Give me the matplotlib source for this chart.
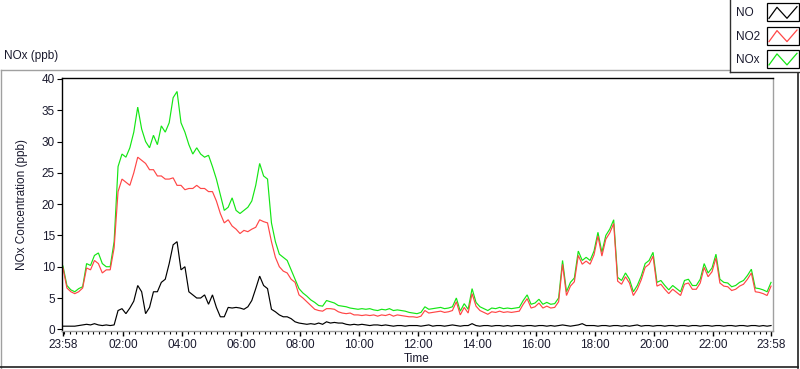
import numpy as np
import matplotlib
matplotlib.use("Agg")
import matplotlib.pyplot as plt
from matplotlib.lines import Line2D
from matplotlib.patches import Rectangle
from matplotlib.ticker import FixedLocator, NullFormatter

# ---------------- data (one sample every 8 minutes from 23:58) ----------------
sample_step_min = 8

nox = [10.1, 7.0, 6.3, 6.0, 6.5, 6.8, 10.5, 10.2, 11.8, 12.2, 10.5, 10.0, 10.0, 14.0, 26.0, 28.0,
       27.5, 29.0, 31.5, 35.5, 32.0, 30.0, 29.0, 31.0, 29.5, 32.5, 31.5, 33.0, 37.0, 38.0, 33.0, 31.5,
       29.5, 28.0, 29.0, 28.0, 27.5, 27.8, 26.0, 24.0, 21.5, 19.0, 19.5, 21.0, 19.0, 18.5,
       19.0, 19.5, 20.5, 23.0, 26.5, 24.5, 24.0, 17.0, 14.0, 12.0, 11.5, 11.0, 9.5, 8.0, 6.5, 5.8,
       5.3, 4.7, 4.3, 3.8, 3.7, 4.6, 4.4, 4.2, 3.8, 3.7, 3.6, 3.4, 3.3, 3.2, 3.3, 3.2, 3.3, 3.1,
       3.0, 3.2, 3.1, 3.3, 3.0, 3.1, 3.0, 2.9, 2.7,
       2.6, 2.5, 2.7, 3.6, 3.2, 3.3, 3.4, 3.5, 3.3, 3.4, 3.6, 5.0, 2.9, 4.1, 3.2, 6.5, 4.3, 3.6,
       3.3, 3.0, 3.4, 3.3, 3.5, 3.3, 3.4, 3.3, 3.4, 3.5, 4.6, 5.5, 4.0, 4.2, 4.8, 4.0, 4.3, 4.0,
       4.1, 5.0, 11.0, 6.0, 7.5, 8.2, 12.5, 11.0, 11.5, 11.0,
       12.5, 15.5, 12.3, 15.0, 16.0, 17.5, 8.3, 7.8, 9.0, 8.0, 6.0, 7.0, 8.5, 10.5, 11.0, 12.3,
       7.5, 7.8, 7.0, 6.3, 7.0, 6.5, 6.0, 7.8, 8.0, 7.0, 7.0, 8.0, 10.5, 9.0, 9.8, 12.0, 8.0, 7.5,
       7.4, 6.8, 7.0, 7.5, 7.8, 8.6, 9.6, 6.6, 6.5, 6.3, 6.0, 7.5]

no2 = [9.8, 6.6, 6.0, 5.7, 6.0, 6.6, 9.8, 9.5, 11.0, 10.5, 9.0, 9.5, 9.5, 13.0, 22.0, 24.0,
       23.5, 23.0, 25.0, 27.5, 27.0, 26.5, 25.5, 25.5, 24.5, 24.5, 24.0, 24.0, 24.2, 23.0, 23.0, 22.3,
       22.5, 22.5, 23.0, 22.5, 22.5, 22.0, 22.0, 20.5, 18.5, 17.0, 17.5, 16.5, 16.0, 15.3,
       15.8, 15.6, 16.0, 16.3, 17.5, 17.2, 17.0, 14.0, 11.5, 10.0, 9.3, 9.0, 8.0, 7.5, 5.5, 5.0,
       4.4, 3.8, 3.2, 3.0, 2.9, 3.3, 3.3, 3.2, 2.8, 2.6, 2.5, 2.6, 2.3, 2.3, 2.2, 2.3, 2.2, 2.3,
       2.1, 2.3, 2.2, 2.4, 2.1, 2.3, 2.2, 2.1, 2.0,
       2.0, 1.9, 2.1, 3.0, 2.6, 2.7, 2.8, 2.9, 2.7, 2.8, 3.0, 4.4, 2.3, 3.5, 2.6, 5.7, 3.7, 3.0,
       2.7, 2.4, 2.8, 2.7, 2.9, 2.7, 2.8, 2.7, 2.8, 2.9, 4.0, 4.9, 3.4, 3.6, 4.2, 3.4, 3.7, 3.4,
       3.5, 4.4, 10.4, 5.4, 6.9, 7.6, 11.8, 10.4, 10.9, 10.4,
       11.9, 14.9, 11.7, 14.4, 15.4, 16.9, 7.7, 7.2, 8.4, 7.4, 5.4, 6.4, 7.9, 9.9, 10.4, 11.7,
       6.9, 7.2, 6.4, 5.7, 6.4, 5.9, 5.4, 7.2, 7.4, 6.4, 6.4, 7.4, 9.9, 8.4, 9.2, 11.4, 7.4, 6.9,
       6.8, 6.2, 6.4, 6.9, 7.2, 8.0, 9.0, 6.0, 5.9, 5.7, 5.4, 6.9]

no = [0.5, 0.5, 0.5, 0.5, 0.6, 0.7, 0.8, 0.7, 0.9, 0.7, 0.6, 0.7, 0.6, 0.7, 3.0, 3.3,
      2.5, 3.4, 4.5, 7.0, 6.0, 2.5, 3.5, 6.0, 6.0, 7.5, 8.0, 10.5, 13.5, 14.0, 9.5, 10.0,
      6.0, 5.5, 5.0, 5.0, 5.5, 4.0, 5.5, 3.5, 2.0, 2.0, 3.5, 3.4, 3.5, 3.4,
      3.2, 3.6, 4.6, 6.5, 8.5, 7.0, 6.5, 3.2, 2.8, 2.3, 2.0, 2.0, 1.7, 1.2, 1.0, 0.9,
      0.8, 0.9, 0.8, 1.0, 0.8, 1.2, 1.0, 1.1, 1.0, 1.0, 0.8, 0.7, 0.8, 0.7, 0.8, 0.7, 0.6, 0.7,
      0.7, 0.6, 0.7, 0.6, 0.5, 0.6, 0.6, 0.5, 0.6,
      0.6, 0.6, 0.5, 0.6, 0.7, 0.5, 0.6, 0.6, 0.5, 0.6, 0.7, 0.6, 0.5, 0.6, 0.6, 0.9, 0.6, 0.5,
      0.6, 0.6, 0.5, 0.6, 0.6, 0.5, 0.6, 0.5, 0.6, 0.6, 0.5, 0.6, 0.6, 0.5, 0.6, 0.6, 0.5, 0.6,
      0.5, 0.6, 0.7, 0.6, 0.5, 0.6, 0.7, 0.9, 0.6, 0.6,
      0.6, 0.5, 0.6, 0.6, 0.5, 0.6, 0.6, 0.5, 0.6, 0.5, 0.6, 0.7, 0.5, 0.6, 0.6, 0.5,
      0.6, 0.6, 0.5, 0.6, 0.6, 0.5, 0.6, 0.6, 0.5, 0.6, 0.6, 0.5, 0.6, 0.6, 0.5, 0.6, 0.6, 0.5,
      0.6, 0.6, 0.5, 0.6, 0.6, 0.5, 0.6, 0.6, 0.5, 0.6, 0.5, 0.6]

series_names = ["NO", "NO2", "NOx"]
series_values = {"NO": no, "NO2": no2, "NOx": nox}
series_colors = {"NO": "#000000", "NO2": "#ff4646", "NOx": "#14e614"}

x_tick_minutes = [0, 122, 242, 362, 482, 602, 722, 842, 962, 1082, 1202, 1322, 1440]
x_tick_labels = ["23:58", "02:00", "04:00", "06:00", "08:00", "10:00", "12:00",
                 "14:00", "16:00", "18:00", "20:00", "22:00", "23:58"]
y_ticks = [0, 5, 10, 15, 20, 25, 30, 35, 40]

# ---------------- figure ----------------
W, H = 800, 369
plt.rcParams["font.family"] = ["Liberation Sans", "DejaVu Sans"]
FS = 8.5
TXT = "#1a1a2e"

fig = plt.figure(figsize=(W / 100, H / 100), dpi=100)
fig.patch.set_facecolor("white")

def fx(px):
    return px / W

def fy(py):
    return 1 - py / H

ax = fig.add_axes([fx(62), fy(331), fx(773) - fx(62), fy(78) - fy(331)])
t = np.arange(len(nox)) * sample_step_min
for name in ["NOx", "NO2", "NO"]:
    ax.plot(t, series_values[name], color=series_colors[name], lw=0.85,
            solid_joinstyle="miter")

ax.set_xlim(-2.0, 1444.0)
ax.set_ylim(-0.27, 40.15)

for side in ["left", "top"]:
    ax.spines[side].set_color("black")
    ax.spines[side].set_linewidth(1.0)
for side in ["right", "bottom"]:
    ax.spines[side].set_color("#a0a0a0")
    ax.spines[side].set_linewidth(1.0)

ax.set_yticks(y_ticks)
ax.set_yticklabels([str(v) for v in y_ticks])
ax.set_xticks(x_tick_minutes)
ax.set_xticklabels(x_tick_labels)
ax.xaxis.set_minor_locator(FixedLocator(list(np.arange(2, 1440, 12))))
ax.xaxis.set_minor_formatter(NullFormatter())

ax.tick_params(axis="y", which="major", direction="out", length=3.5, width=0.8,
               color="black", labelsize=FS, labelcolor=TXT, pad=1.5)
ax.tick_params(axis="x", which="major", direction="out", length=3.5, width=1.0,
               color="black", labelsize=FS, labelcolor=TXT, pad=2.5)
ax.tick_params(axis="x", which="minor", direction="out", length=2.0, width=0.8,
               color="black")

# axis titles
fig.text(fx(22), fy(205), "NOx Concentration (ppb)", rotation=90, ha="center",
         va="center", fontsize=FS, color=TXT)
fig.text(fx(417), fy(359), "Time", ha="center", va="center", fontsize=FS, color=TXT)
fig.text(fx(4), fy(56), "NOx (ppb)", ha="left", va="center", fontsize=FS, color=TXT)

# outer frame (sunken panel look)
def fline(xs, ys, color, lw=1.0, zorder=5):
    fig.add_artist(Line2D([fx(v) for v in xs], [fy(v) for v in ys], color=color,
                          lw=lw, transform=fig.transFigure, zorder=zorder))

fline([0.5, 730], [70, 70], "#a0a0a0")
fline([1, 1], [70, 369], "#a0a0a0")
fline([0, 798], [367, 367], "#202020", lw=1.2)
fline([797.5, 797.5], [72, 368], "#202020", lw=1.2)

# legend panel
fig.add_artist(Rectangle((fx(730), fy(72)), fx(800) - fx(730), fy(0) - fy(72),
                         transform=fig.transFigure, facecolor="white",
                         edgecolor="none", zorder=6))
fline([730, 730], [0, 72], "#303030", zorder=7)
fline([730, 800], [72, 72], "#303030", zorder=7)

for i, name in enumerate(series_names):
    top = 3.3 + i * 23.3
    fig.text(fx(736), fy(top + 10), name, ha="left", va="center", fontsize=FS,
             color=TXT, zorder=8)
    fig.add_artist(Rectangle((fx(767), fy(top + 18)), fx(799) - fx(767),
                             fy(top) - fy(top + 18), transform=fig.transFigure,
                             facecolor="white", edgecolor="black", lw=0.9, zorder=8))
    fline([769, 777, 787, 797], [top + 15, top + 4, top + 15, top + 3.4],
          series_colors[name], lw=0.9, zorder=9)

fig.savefig("out.png", dpi=100, facecolor="white")
